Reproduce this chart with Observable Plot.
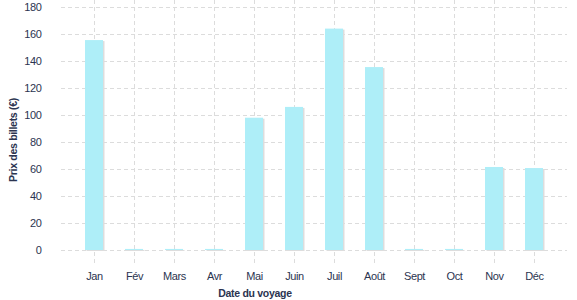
<!DOCTYPE html>
<html>
<head>
<meta charset="utf-8">
<script src="https://cdn.jsdelivr.net/npm/d3@7"></script>
<script src="https://cdn.jsdelivr.net/npm/@observablehq/plot@0.6"></script>
<style>
  html, body { margin: 0; padding: 0; background: #fff; }
  #chart svg { display: block; }
</style>
</head>
<body>
<div id="chart"></div>
<script>
const months = ["Jan", "Fév", "Mars", "Avr", "Mai", "Juin", "Juil", "Août", "Sept", "Oct", "Nov", "Déc"];
const prices = [155.5, 0.8, 0.8, 0.8, 98, 106, 164, 135.5, 0.8, 0.8, 61.5, 60.7];
const yTicks = [0, 20, 40, 60, 80, 100, 120, 140, 160, 180];
const xTitle = "Date du voyage";
const yTitle = "Prix des billets (€)";

const data = months.map((m, i) => ({month: m, price: prices[i]}));
const textColor = "#2b3450";
const gridColor = "#dcdcdc";

const chart = Plot.plot({
  width: 577,
  height: 300,
  marginTop: 0,
  marginBottom: 35,
  marginLeft: 61,
  marginRight: 10,
  style: {fontFamily: "Liberation Sans, Arial, sans-serif", fontSize: "11px", color: textColor, background: "#fff"},
  x: {domain: months, paddingInner: 0.56, paddingOuter: 0.6, label: null},
  y: {domain: [0, 180], insetTop: 7, insetBottom: 15, label: null},
  marks: [
    Plot.gridY(yTicks, {stroke: gridColor, strokeOpacity: 1, strokeDasharray: "4,3"}),
    Plot.gridX(months, {stroke: gridColor, strokeOpacity: 1, strokeDasharray: "4,3"}),
    Plot.barY(data, {x: "month", y: "price", fill: "#dddddd", dx: 1.5, dy: 1}),
    Plot.barY(data, {x: "month", y: "price", fill: "#aeeef8"}),
    Plot.axisY(yTicks, {tickSize: 0, tickPadding: 20, fill: textColor, fontSize: 11, label: null}),
    Plot.axisX(months, {tickSize: 0, tickPadding: 7, fill: textColor, fontSize: 11, label: null})
  ]
});

const svg = d3.select(chart);
svg.selectAll("text").attr("letter-spacing", "-0.4");
svg.append("text")
  .attr("x", 255).attr("y", 297)
  .attr("text-anchor", "middle")
  .attr("font-weight", "bold")
  .attr("font-size", 10.5)
  .attr("letter-spacing", "-0.3")
  .attr("fill", textColor)
  .text(xTitle);
svg.append("text")
  .attr("transform", "translate(17,140) rotate(-90)")
  .attr("text-anchor", "middle")
  .attr("font-weight", "bold")
  .attr("font-size", 10.5)
  .attr("letter-spacing", "-0.3")
  .attr("fill", textColor)
  .text(yTitle);

document.getElementById("chart").appendChild(chart);
</script>
</body>
</html>
